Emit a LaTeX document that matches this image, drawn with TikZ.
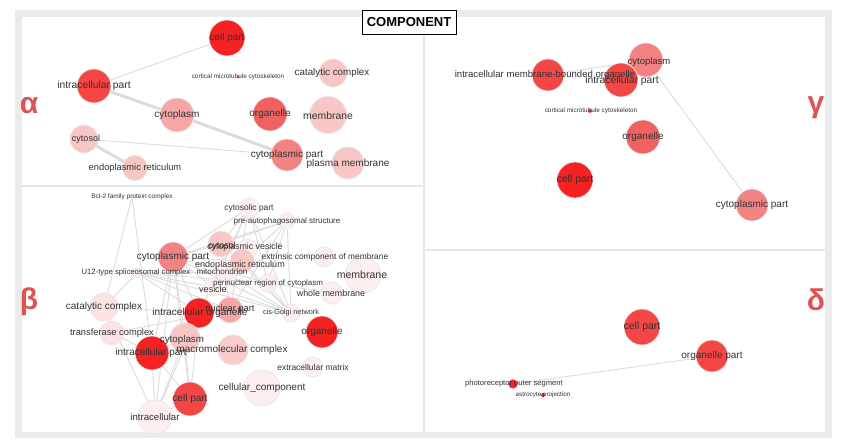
\documentclass[tikz,border=0pt]{standalone}
\usepackage{fontspec}
\setmainfont{Liberation Sans}
\pgfdeclarelayer{bg}
\pgfdeclarelayer{edges}
\pgfsetlayers{bg,edges,main}
\definecolor{edgegray}{HTML}{DCDCDC}
\definecolor{framegray}{HTML}{EBEBEB}
\definecolor{divgray}{HTML}{E6E6E6}
\definecolor{txt}{HTML}{333333}
\definecolor{greek}{HTML}{E05252}
\definecolor{rA}{HTML}{F42222}
\definecolor{rB}{HTML}{F54646}
\definecolor{rC}{HTML}{F06262}
\definecolor{rD}{HTML}{F38282}
\definecolor{rE}{HTML}{F7A6A6}
\definecolor{rF}{HTML}{F9C6C6}
\definecolor{rG}{HTML}{FCE2E2}
\definecolor{rH}{HTML}{FDEFEF}
\tikzset{
  nd/.style={circle, inner sep=0pt, minimum size=#1, draw=black!9, line width=0.7pt},
  lbl/.style={inner sep=0pt, text=txt, font=\fontsize{#1}{#1}\selectfont},
  lbl/.default=10,
  edge/.style={draw=edgegray, line width=0.9pt},
  thickedge/.style={draw=edgegray, line width=3pt},
  greeklbl/.style={inner sep=0pt, text=greek, font=\bfseries\fontsize{30}{30}\selectfont},
}
\begin{document}
\begin{tikzpicture}[x=1pt,y=-1pt]
\useasboundingbox (0,0) rectangle (843,446);
\begin{pgfonlayer}{bg}
  \fill[white] (0,0) rectangle (843,446);
  \fill[framegray] (15,10) rectangle (832,438);
  \fill[white] (22,17) rectangle (825,432);
  \draw[divgray, line width=1.5pt] (424,17) -- (424,432);
  \draw[divgray, line width=1.5pt] (22,186) -- (424,186);
  \draw[divgray, line width=1.5pt] (424,250) -- (825,250);
\end{pgfonlayer}

% ---------------- alpha ----------------
\node[nd=36pt, fill=rA] (acell) at (227,38) {};
\node[nd=34pt, fill=rB] (aintra) at (94,86) {};
\node[nd=3pt, fill=rC, draw=none] (acort) at (238,77) {};
\node[nd=28pt, fill=rF] (acatal) at (333,73) {};
\node[nd=34pt, fill=rE] (acytopl) at (177,115) {};
\node[nd=34pt, fill=rC] (aorg) at (270,114) {};
\node[nd=37pt, fill=rF] (amem) at (328,115) {};
\node[nd=28pt, fill=rF] (acytosol) at (84,139) {};
\node[nd=25pt, fill=rF] (aer) at (135,168) {};
\node[nd=32pt, fill=rD] (acytpart) at (287,155) {};
\node[nd=32pt, fill=rF] (aplasma) at (348,163) {};

% ---------------- gamma ----------------
\node[nd=34pt, fill=rD] (gcytopl) at (646,60) {};
\node[nd=34pt, fill=rB] (gintra) at (621,80) {};
\node[nd=32pt, fill=rB] (gimbo) at (548,75) {};
\node[nd=4pt, fill=rB, draw=none] (gcort) at (590,111) {};
\node[nd=34pt, fill=rC] (gorg) at (643,137) {};
\node[nd=36pt, fill=rA] (gcell) at (575,180) {};
\node[nd=32pt, fill=rD] (gcytpart) at (752,205) {};

% ---------------- delta ----------------
\node[nd=36pt, fill=rB] (dcell) at (642,327) {};
\node[nd=32pt, fill=rB] (dorgpart) at (712,356) {};
\node[nd=10pt, fill=rA] (dphoto) at (513,384) {};
\node[nd=4pt, fill=rA, draw=none] (dastro) at (543,395) {};

% ---------------- beta ----------------
\node[nd=3pt, fill=rH] (bbcl) at (132,197) {};
\node[nd=20pt, fill=rH] (bcytosolic) at (249,208) {};
\node[nd=16pt, fill=rH] (bpreauto) at (287,221) {};
\node[nd=30pt, fill=rD] (bcytpart) at (173,257) {};
\node[nd=10pt, fill=rH] (bu12) at (137,273) {};
\node[nd=20pt, fill=rH] (bvesic) at (247,249) {};
\node[nd=26pt, fill=rF] (bcytosol) at (221,244) {};
\node[nd=24pt, fill=rF] (ber) at (242,261) {};
\node[nd=18pt, fill=rH] (bmito) at (225,272) {};
\node[nd=18pt, fill=rH] (bvesicle) at (213,287) {};
\node[nd=18pt, fill=rH] (bperi) at (268,283) {};
\node[nd=20pt, fill=rH] (bextr) at (324,257) {};
\node[nd=36pt, fill=rH] (bmem) at (363,275) {};
\node[nd=22pt, fill=rH] (bwhole) at (332,293) {};
\node[nd=18pt, fill=rH] (bcis) at (291,313) {};
\node[nd=28pt, fill=rG] (bcatal) at (104,307) {};
\node[nd=24pt, fill=rG] (btransf) at (112,333) {};
\node[nd=26pt, fill=rE] (bnuc) at (230,310) {};
\node[nd=30pt, fill=rA] (bintorg) at (199,313) {};
\node[nd=32pt, fill=rA] (borg) at (322,332) {};
\node[nd=30pt, fill=rF] (bcytopl) at (185,338) {};
\node[nd=30pt, fill=rF!80!rG] (bmacro) at (233,350) {};
\node[nd=34pt, fill=rA] (bintrapart) at (152,353) {};
\node[nd=20pt, fill=rH] (bextra) at (313,367) {};
\node[nd=36pt, fill=rH] (bcellcomp) at (262,388) {};
\node[nd=34pt, fill=rH] (bintracell) at (155,417) {};
\node[nd=34pt, fill=rB] (bcell) at (190,399) {};

% ---------------- edges ----------------
\begin{pgfonlayer}{edges}
  \draw[edge] (acell) -- (aintra);
  \draw[thickedge] (aintra) -- (acytopl);
  \draw[thickedge] (acytopl) -- (acytpart);
  \draw[edge] (acytosol) -- (acytpart);
  \draw[thickedge] (acytosol) -- (aer);

  \draw[edge] (gimbo) -- (gcytopl);
  \draw[edge] (gcytopl) -- (gcytpart);

  \draw[edge] (dphoto) -- (dorgpart);

  \foreach \a/\b in {bbcl/bcatal, bbcl/bintrapart,
    bu12/bcatal, bu12/bvesicle, bu12/bperi, bu12/bcis, bu12/bnuc, bu12/bmito, bu12/bintorg,
    bcytpart/bcytosolic, bcytpart/bpreauto, bcytpart/bcytosol, bcytpart/ber, bcytpart/bcis,
    bcytpart/bintorg, bcytpart/bcytopl, bcytpart/bintrapart, bcytpart/bcell, bcytpart/bintracell,
    bcytpart/bperi, bcytpart/bvesicle,
    bcytosolic/bcytosol, bcytosolic/bvesicle, bcytosolic/bnuc, bcytosolic/bcis, bcytosolic/bintorg, bcytosolic/bperi,
    bpreauto/bnuc, bpreauto/bcis, bpreauto/bvesicle, bpreauto/bcytosol, bpreauto/bperi,
    bcytosol/bcis, bcytosol/bnuc, ber/bcis, bperi/bcis, bperi/bwhole,
    bcatal/btransf, bcatal/bintorg, btransf/bintrapart, btransf/bnuc,
    bintracell/bintrapart, bintracell/bcell, bintracell/bcytopl, bintracell/bintorg, bintracell/bcatal,
    bcell/bintrapart, bcell/bcytopl, bcell/bintorg,
    bcytopl/bintorg, bintrapart/bintorg, bnuc/bintorg, bintrapart/bcytopl,
    bvesicle/bcis, bmito/bcis}
    \draw[edge] (\a) -- (\b);
\end{pgfonlayer}

% ---------------- labels ----------------
\node[lbl] (acell-l) at (227,38) {cell part};
\node[lbl=10.3] (aintra-l) at (94,86) {intracellular part};
\node[lbl=6.4] (acort-l) at (238,77) {cortical microtubule cytoskeleton};
\node[lbl=9.8] (acatal-l) at (332,73) {catalytic complex};
\node[lbl] (acytopl-l) at (177,115) {cytoplasm};
\node[lbl] (aorg-l) at (270,114) {organelle};
\node[lbl=10.4] (amem-l) at (328,116) {membrane};
\node[lbl=9] (acytosol-l) at (86,139) {cytosol};
\node[lbl=9.3] (aer-l) at (135,168) {endoplasmic reticulum};
\node[lbl] (acytpart-l) at (287,155) {cytoplasmic part};
\node[lbl] (aplasma-l) at (348,164) {plasma membrane};

\node[lbl=9.5] (gcytopl-l) at (649,62) {cytoplasm};
\node[lbl=9.6] (gimbo-l) at (545,75) {intracellular membrane-bounded organelle};
\node[lbl=10.3] (gintra-l) at (622,81) {intracellular part};
\node[lbl=6.4] (gcort-l) at (591,111) {cortical microtubule cytoskeleton};
\node[lbl] (gorg-l) at (643,137) {organelle};
\node[lbl=10.5] (gcell-l) at (575,180) {cell part};
\node[lbl] (gcytpart-l) at (752,205) {cytoplasmic part};

\node[lbl=10.5] (dcell-l) at (642,327) {cell part};
\node[lbl] (dorgpart-l) at (712,356) {organelle part};
\node[lbl=7.6] (dphoto-l) at (514,384) {photoreceptor outer segment};
\node[lbl=6.3] (dastro-l) at (543,395) {astrocyte projection};

\node[lbl=6.5] (bbcl-l) at (132,197) {Bcl-2 family protein complex};
\node[lbl=8.4] (bcytosolic-l) at (249,208) {cytosolic part};
\node[lbl=8] (bpreauto-l) at (287,221) {pre-autophagosomal structure};
\node[lbl] (bcytpart-l) at (173,257) {cytoplasmic part};
\node[lbl=7.7] (bu12-l) at (136,273) {U12-type spliceosomal complex};
\node[lbl=8.8] (bvesic-l) at (245,247) {cytoplasmic vesicle};
\node[lbl=8.8] (bcytosol-l) at (222,246) {cytosol};
\node[lbl=9] (ber-l) at (240,265) {endoplasmic reticulum};
\node[lbl=8.1] (bmito-l) at (222,272) {mitochondrion};
\node[lbl=9] (bvesicle-l) at (213,289) {vesicle};
\node[lbl=7.9] (bperi-l) at (268,283) {perinuclear region of cytoplasm};
\node[lbl=8.4] (bextr-l) at (325,257) {extrinsic component of membrane};
\node[lbl=10.5] (bmem-l) at (362,275) {membrane};
\node[lbl=8.9] (bwhole-l) at (331,293) {whole membrane};
\node[lbl=7.3] (bcis-l) at (291,313) {cis-Golgi network};
\node[lbl] (bcatal-l) at (104,307) {catalytic complex};
\node[lbl=9.3] (btransf-l) at (112,333) {transferase complex};
\node[lbl] (bintorg-l) at (200,313) {intracellular organelle};
\node[lbl=9.3] (bnuc-l) at (230,309) {nuclear part};
\node[lbl] (borg-l) at (322,332) {organelle};
\node[lbl=9.8] (bcytopl-l) at (182,340) {cytoplasm};
\node[lbl] (bmacro-l) at (232,350) {macromolecular complex};
\node[lbl] (bintrapart-l) at (151,353) {intracellular part};
\node[lbl=8.5] (bextra-l) at (313,367) {extracellular matrix};
\node[lbl] (bcellcomp-l) at (262,388) {cellular\_component};
\node[lbl] (bcell-l) at (190,399) {cell part};
\node[lbl=9.6] (bintracell-l) at (155,417) {intracellular};

% ---------------- greek panel letters ----------------
\node[greeklbl] (galpha) at (29,106) {α};
\node[greeklbl] (gbeta) at (29,302) {β};
\node[greeklbl] (ggamma) at (816,108) {γ};
\node[greeklbl] (gdelta) at (816,300) {δ};

% ---------------- title ----------------
\node[draw=black, line width=0.8pt, fill=white, inner sep=0pt,
      minimum width=94pt, minimum height=24pt,
      font=\bfseries\fontsize{13}{13}\selectfont] (title) at (409,22) {COMPONENT};
\end{tikzpicture}
\end{document}
